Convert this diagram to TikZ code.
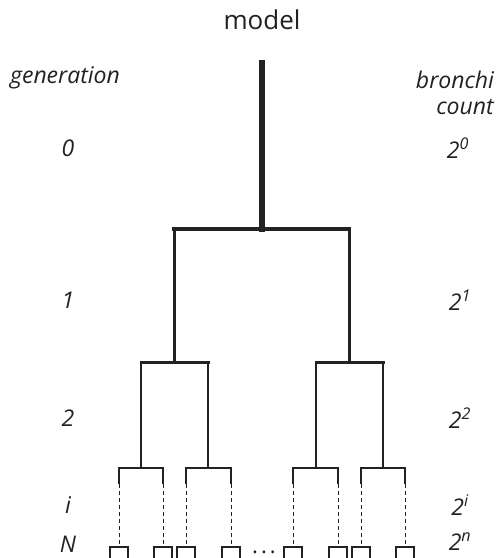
\documentclass[tikz,border=0pt]{standalone}
\usepackage{fontspec}
\setmainfont{Open Sans}
\usepackage{tikz}
\usetikzlibrary{positioning}

\definecolor{treegray}{HTML}{222222}

\tikzset{
  lbl/.style={text centered, inner sep=0pt, font=\fontsize{23}{27}\selectfont\itshape, text=treegray},
  airway/.style={draw=treegray, line cap=rect},
}

\begin{document}
\begin{tikzpicture}[x=1pt, y=-1pt]
  \useasboundingbox (0,0) rectangle (499,558);
  % title %
  \node[lbl, font=\fontsize{26}{30}\selectfont] (title) at (262,20) {model};
  % labels left %
  \node[lbl] (gen) at (65,78) {generation};
  \node[lbl] (g0) at (68,148) {0};
  \node[lbl] (g1) at (68,300) {1};
  \node[lbl] (g2) at (68,418) {2};
  \node[lbl] (gi) at (68,505) {i};
  \node[lbl] (gN) at (68,544) {N};
  % labels right %
  \node[lbl] (bronchi) at (455,80) {bronchi};
  \node[lbl] (count) at (465,107) {count};
  \node[lbl] (c0) at (458,148) {2\textsuperscript{0}};
  \node[lbl] (c1) at (460,300) {2\textsuperscript{1}};
  \node[lbl] (c2) at (460,418) {2\textsuperscript{2}};
  \node[lbl] (ci) at (460,505) {2\textsuperscript{i}};
  \node[lbl] (cN) at (460,542) {2\textsuperscript{n}};
  \node[lbl, font=\fontsize{22}{26}\selectfont, anchor=base] (dots) at (264,553) {.\hspace{3pt}.\hspace{3pt}.};
  % branch points %
  \coordinate (top) at (262,63);
  \coordinate (b0) at (262,229);
  \coordinate (b1l) at (174,229);
  \coordinate (b1r) at (349,229);
  \coordinate (b2a) at (141,362);
  \coordinate (b2b) at (208,362);
  \coordinate (b2c) at (316,362);
  \coordinate (b2d) at (383,362);
  % trunk and first generations %
  \draw[airway, line width=6] (top) -- (b0);
  \draw[airway, line width=4.5] (b1l) |- (b0) -| (b1r);
  \draw[airway, line width=3] (b2a) -- (b2b) (b1l) -- (b1l |- b2a);
  \draw[airway, line width=3] (b2c) -- (b2d) (b1r) -- (b1r |- b2c);
  % gen 3 and leaves %
  \foreach \p/\l/\r in {141/119/163, 208/186/231, 316/293/338, 383/361/405} {
    \draw[airway, line width=2.5] (\p,362) -- (\p,468);
    \draw[airway, line width=2] (\l,483) |- (\r,468) -- (\r,483);
  }
  \foreach \x in {119,163,186,231,293,338,361,405} {
    \draw[treegray, line width=1, dash pattern=on 4pt off 3pt] (\x,484) -- (\x,545);
    \draw[treegray, line width=1.2] (\x-9,560) |- (\x+9,547) -- (\x+9,560);
  }
\end{tikzpicture}
\end{document}
